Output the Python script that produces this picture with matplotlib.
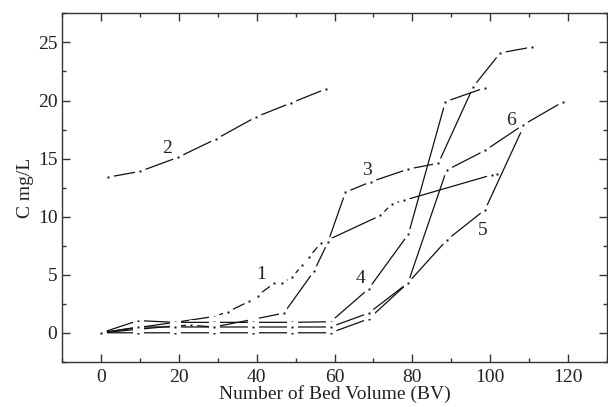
import numpy as np
import matplotlib.pyplot as plt
from matplotlib.ticker import MultipleLocator

plt.rcParams['font.family'] = 'Liberation Serif'

# breakthrough curves, bed volumes vs concentration (mg/L)
x1 = [0, 9.5, 19, 29, 32.5, 38, 40.2, 44.4, 46.6, 49.1, 51.7, 53.4, 56.4, 71.8, 74.8, 77.8, 100.5, 101.7]
y1 = [0, 0.45, 0.9, 1.4, 1.8, 2.7, 3.2, 4.25, 4.3, 4.8, 5.8, 6.5, 7.7, 10.1, 11.1, 11.4, 13.6, 13.7]

x2 = [1.8, 10, 19.7, 29.6, 39.9, 48.9, 57.8]
y2 = [13.4, 13.9, 15.1, 16.7, 18.6, 19.8, 21.0]

x3 = [0, 9.5, 19, 23, 29, 39, 47, 54.7, 58.3, 62.8, 69.3, 79, 86.7, 95.7, 102.6, 110.7]
y3 = [0, 0.3, 0.6, 0.65, 0.5, 1.15, 1.7, 5.3, 7.8, 12.1, 13.0, 14.1, 14.6, 21.2, 24.1, 24.6]

x4 = [0, 9.5, 19, 29, 39, 49, 59, 68.8, 79, 88.5, 98.7]
y4 = [0, 1.05, 0.9, 0.9, 0.9, 0.9, 0.95, 3.8, 8.5, 19.9, 21.1]

x5 = [0, 9.5, 19, 29, 39, 49, 59, 68.8, 78.9, 88.9, 98.7, 108.5]
y5 = [0, 0, 0, 0, 0, 0, 0, 1.2, 4.3, 8.0, 10.6, 17.7]

x6 = [0, 9.5, 19, 29, 39, 49, 59, 68.8, 78.9, 88.8, 98.7, 108.5, 118.8]
y6 = [0, 0.5, 0.5, 0.5, 0.5, 0.5, 0.5, 1.7, 4.3, 14.0, 15.7, 17.9, 19.9]

labels = ['1', '2', '3', '4', '5', '6']
label_pos = [(41, 5.0), (17, 15.9), (68.4, 14.0), (66.8, 4.7), (98.0, 8.85), (105.4, 18.3)]

fig = plt.figure(figsize=(6.08, 4.07), dpi=100)
ax = fig.add_axes([0.1025, 0.111, 0.8955, 0.856])

curves = [(x1, y1), (x2, y2), (x3, y3), (x4, y4), (x5, y5), (x6, y6)]
for i, (xs, ys) in enumerate(curves):
    z = 2 + 3 * i
    ax.plot(xs, ys, color='#111111', lw=0.9, zorder=z)
    # white ring breaks the line near each point
    ax.plot(xs, ys, ls='none', marker='o', ms=8, mfc='white', mec='none', zorder=z + 1)
    ax.plot(xs, ys, ls='none', marker='s', ms=1.8, mfc='#111111', mec='none', zorder=z + 2)

for lab, (lx, ly) in zip(labels, label_pos):
    ax.text(lx, ly, lab, fontsize=14, ha='center', va='center', color='#222222', zorder=40)

ax.set_xlim(-10, 130)
ax.set_ylim(-2.5, 27.5)
ax.xaxis.set_major_locator(MultipleLocator(20))
ax.xaxis.set_minor_locator(MultipleLocator(10))
ax.yaxis.set_major_locator(MultipleLocator(5))
ax.yaxis.set_minor_locator(MultipleLocator(2.5))
ax.tick_params(which='both', direction='in', top=True, right=True, labelsize=14, colors='#333333', labelcolor='#222222')
ax.tick_params(which='major', length=6, width=1)
ax.tick_params(which='minor', length=3, width=1)
ax.tick_params(axis='x', pad=5)
for s in ax.spines.values():
    s.set_color('#333333')
    s.set_linewidth(1)

ax.set_xlabel('Number of Bed Volume (BV)', fontsize=14, labelpad=-0.5, color='#222222')
ax.set_ylabel('C mg/L', fontsize=14, labelpad=3, color='#222222')

fig.savefig('out.png', dpi=100)
